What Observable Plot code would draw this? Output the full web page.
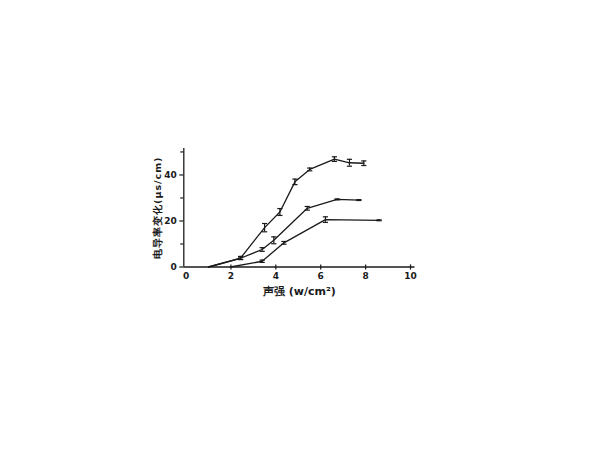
<!DOCTYPE html>
<html>
<head>
<meta charset="utf-8">
<script src="https://cdn.jsdelivr.net/npm/d3@7"></script>
<script src="https://cdn.jsdelivr.net/npm/@observablehq/plot@0.6"></script>
<style>
  html, body { margin: 0; padding: 0; background: #fff; }
  #chart { width: 600px; height: 450px; }
  .ytitle text { letter-spacing: 1px; }
</style>
</head>
<body>
<div id="chart"></div>
<script>
// Series: x = sound intensity (w/cm²), y = conductivity change (μs/cm), err = error bar half-height
const upperX = [1.0, 2.43, 3.5, 4.18, 4.85, 5.51, 6.61, 7.28, 7.92];
const upperY = [0, 3.9, 17.1, 23.9, 37.0, 42.4, 46.9, 45.3, 45.1];
const upperErr = [0, 0.7, 1.8, 1.5, 1.2, 0.6, 1.0, 1.5, 1.0];

const middleX = [1.0, 2.43, 3.39, 3.91, 5.4, 6.73, 7.7];
const middleY = [0, 3.8, 7.6, 11.6, 25.5, 29.4, 29.1];
const middleErr = [0, 0.5, 0.8, 1.5, 0.8, 0.2, 0.2];

const lowerX = [1.98, 3.39, 4.36, 6.21, 8.6];
const lowerY = [0, 2.5, 10.5, 20.6, 20.3];
const lowerErr = [0, 0.5, 0.6, 1.2, 0.2];

const xTicks = [0, 2, 4, 6, 8, 10];
const yLabelTicks = [0, 20, 40];
const yMinorTicks = [10, 30, 50];
const xTitle = "声强 (w/cm²)";
const yTitle = "电导率变化(μs/cm)";

function build(name, xs, ys, es) {
  return xs.map((x, i) => ({series: name, x, y: ys[i], err: es[i]}));
}
const data = [
  ...build("upper", upperX, upperY, upperErr),
  ...build("middle", middleX, middleY, middleErr),
  ...build("lower", lowerX, lowerY, lowerErr)
];
const errData = data.filter(d => d.err > 0);

const hLine = { draw(ctx, size) { const r = Math.sqrt(size / Math.PI); ctx.moveTo(-r, 0); ctx.lineTo(r, 0); } };
const vLine = { draw(ctx, size) { const r = Math.sqrt(size / Math.PI); ctx.moveTo(0, -r); ctx.lineTo(0, r); } };

const ink = "#1a1a1a";
const font = "DejaVu Sans, sans-serif";

const chart = Plot.plot({
  width: 600,
  height: 450,
  marginLeft: 183.3,
  marginRight: 185.5,
  marginTop: 148,
  marginBottom: 183.5,
  style: {fontFamily: font, background: "#fff", color: ink},
  x: {domain: [-0.1, 10.2]},
  y: {domain: [0, 51.5]},
  marks: [
    Plot.axisX({ticks: xTicks, tickSize: 0, tickPadding: 6, fontSize: 9, fontWeight: "bold", label: null}),
    Plot.axisY({ticks: yLabelTicks, tickSize: 4, tickPadding: 3, fontSize: 9, fontWeight: "bold", label: null, strokeWidth: 1.2}),
    Plot.axisY({ticks: yMinorTicks, tickSize: 3, tickFormat: () => "", label: null, strokeWidth: 1.2}),
    Plot.ruleY([0], {stroke: ink, strokeWidth: 1.6}),
    Plot.ruleX([-0.1], {stroke: ink, strokeWidth: 1.3}),
    Plot.dot(xTicks.filter(t => t > 0), {x: d => d, y: 0, symbol: vLine, r: 2.6, stroke: ink, strokeWidth: 1.2}),
    Plot.line(data, {x: "x", y: "y", z: "series", stroke: ink, strokeWidth: 1.3}),
    Plot.ruleX(errData, {x: "x", y1: d => d.y - d.err, y2: d => d.y + d.err, stroke: ink, strokeWidth: 1.2}),
    Plot.dot(errData, {x: "x", y: d => d.y - d.err, symbol: hLine, r: 2.6, stroke: ink, strokeWidth: 1.2}),
    Plot.dot(errData, {x: "x", y: d => d.y + d.err, symbol: hLine, r: 2.6, stroke: ink, strokeWidth: 1.2}),
    Plot.text([xTitle], {frameAnchor: "bottom", textAnchor: "middle", dy: 28, fontSize: 11, fontWeight: "bold", fill: ink, text: d => d}),
    Plot.text([yTitle], {frameAnchor: "left", textAnchor: "middle", dx: -26, rotate: -90, fontSize: 9.5, fontWeight: "bold", fill: ink, text: d => d, className: "ytitle"})
  ]
});
document.getElementById("chart").appendChild(chart);
</script>
</body>
</html>
